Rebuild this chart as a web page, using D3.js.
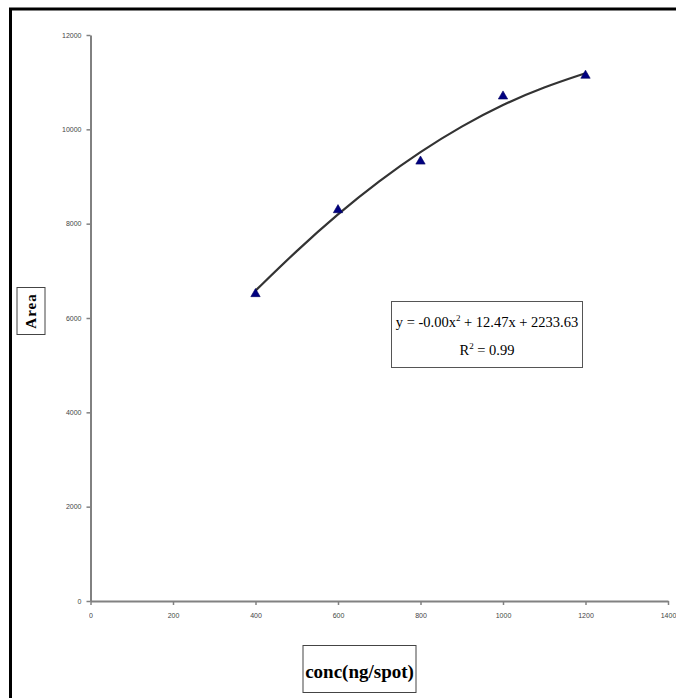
<!DOCTYPE html>
<html lang="en">
  <head>
    <meta charset="utf-8">
    <title>Area vs conc</title>
    <script src="https://d3js.org/d3.v7.min.js"></script>
    <style>
      body { margin: 0; background: #fff; }
      svg { -webkit-font-smoothing: antialiased; }
      .axis { opacity: 0.99; }
      .tick text { font-family: "Liberation Sans", Arial, sans-serif; font-size: 7px; fill: #444; }
      .axis path, .axis line { stroke: #808080; }
      .lbl { font-family: "Liberation Serif", "Times New Roman", serif; fill: #000; }
    </style>
  </head>
  <body>
    <script type="text/javascript">
    // measured points (conc in ng/spot, peak area)
    var conc = [400, 600, 800, 1000, 1200];
    var area = [6510, 8290, 9320, 10700, 11140];

    // trend line
    var trendX = [400, 500, 600, 700, 800, 900, 1000, 1100, 1200];
    var trendY = [6580, 7430, 8210, 8910, 9530, 10070, 10530, 10900, 11190];

    var xTicks = [0, 200, 400, 600, 800, 1000, 1200, 1400];
    var yTicks = [0, 2000, 4000, 6000, 8000, 10000, 12000];

    var eqText = "y = -0.00x";
    var eqRest = " + 12.47x + 2233.63";
    var r2Text = "R";
    var r2Rest = " = 0.99";

    var w = 676;
    var h = 698;

    var svg = d3.select("body")
                .append("svg")
                .attr("width", w)
                .attr("height", h);

    // outer frame (only top and left edges show)
    svg.append("line")
       .attr("x1", 9).attr("y1", 9).attr("x2", w).attr("y2", 9)
       .attr("stroke", "#000").attr("stroke-width", 3);
    svg.append("line")
       .attr("x1", 10.5).attr("y1", 8).attr("x2", 10.5).attr("y2", h)
       .attr("stroke", "#000").attr("stroke-width", 3);

    var xScale = d3.scaleLinear()
                   .domain([0, 1400])
                   .range([90.5, 668]);

    var yScale = d3.scaleLinear()
                   .domain([0, 12000])
                   .range([601, 35]);

    var xAxis = d3.axisBottom(xScale)
                  .tickValues(xTicks)
                  .tickSize(4)
                  .tickSizeOuter(0)
                  .tickPadding(8)
                  .tickFormat(d3.format("d"));

    var yAxis = d3.axisLeft(yScale)
                  .tickValues(yTicks)
                  .tickSize(4)
                  .tickSizeOuter(0)
                  .tickPadding(5)
                  .tickFormat(d3.format("d"));

    svg.append("g")
       .attr("class", "axis")
       .attr("transform", "translate(0," + yScale(0) + ")")
       .call(xAxis)
       .call(function(g) {
         g.select(".domain").attr("stroke-width", 2);
         g.selectAll(".tick line").attr("stroke-width", 1.5);
       });

    svg.append("g")
       .attr("class", "axis")
       .attr("transform", "translate(" + xScale(0) + ",0)")
       .call(yAxis)
       .call(function(g) {
         g.select(".domain").attr("stroke-width", 2);
         g.selectAll(".tick line").attr("stroke-width", 1.5);
       });

    // trend line
    var line = d3.line()
                 .x(function(d, i) { return xScale(trendX[i]); })
                 .y(function(d) { return yScale(d); })
                 .curve(d3.curveBasis);

    svg.append("path")
       .datum(trendY)
       .attr("d", line)
       .attr("fill", "none")
       .attr("stroke", "#333")
       .attr("stroke-width", 2.2);

    // markers
    var tri = d3.symbol().type(d3.symbolTriangle).size(38);
    svg.selectAll("path.pt")
       .data(area)
       .enter()
       .append("path")
       .attr("class", "pt")
       .attr("d", tri)
       .attr("transform", function(d, i) {
         return "translate(" + xScale(conc[i]) + "," + yScale(d) + ")";
       })
       .attr("fill", "#000080")
       .attr("stroke", "#000060")
       .attr("stroke-width", 0.6);

    // equation box
    svg.append("rect")
       .attr("x", 391.5).attr("y", 301.5)
       .attr("width", 191).attr("height", 66)
       .attr("fill", "#fff")
       .attr("stroke", "#555").attr("stroke-width", 1);

    var eq = svg.append("text")
                .attr("class", "lbl")
                .attr("x", 487).attr("y", 327)
                .attr("text-anchor", "middle")
                .attr("font-size", 14.5);
    eq.append("tspan").text(eqText);
    eq.append("tspan").attr("dy", -6).attr("font-size", 9).text("2");
    eq.append("tspan").attr("dy", 6).text(eqRest);

    var r2 = svg.append("text")
                .attr("class", "lbl")
                .attr("x", 487).attr("y", 355)
                .attr("text-anchor", "middle")
                .attr("font-size", 14.5);
    r2.append("tspan").text(r2Text);
    r2.append("tspan").attr("dy", -6).attr("font-size", 9).text("2");
    r2.append("tspan").attr("dy", 6).text(r2Rest);

    // y axis title
    svg.append("rect")
       .attr("x", 17).attr("y", 287.5)
       .attr("width", 28).attr("height", 47)
       .attr("fill", "#fff")
       .attr("stroke", "#444").attr("stroke-width", 1);
    svg.append("text")
       .attr("class", "lbl")
       .attr("transform", "translate(36,311) rotate(-90)")
       .attr("text-anchor", "middle")
       .attr("font-size", 15)
       .attr("font-weight", "bold")
       .attr("letter-spacing", 1)
       .text("Area");

    // x axis title
    svg.append("rect")
       .attr("x", 303).attr("y", 645.5)
       .attr("width", 113).attr("height", 47)
       .attr("fill", "#fff")
       .attr("stroke", "#444").attr("stroke-width", 1);
    svg.append("text")
       .attr("class", "lbl")
       .attr("x", 359.5).attr("y", 678)
       .attr("text-anchor", "middle")
       .attr("font-size", 19)
       .attr("font-weight", "bold")
       .text("conc(ng/spot)");
    </script>
  </body>
</html>
